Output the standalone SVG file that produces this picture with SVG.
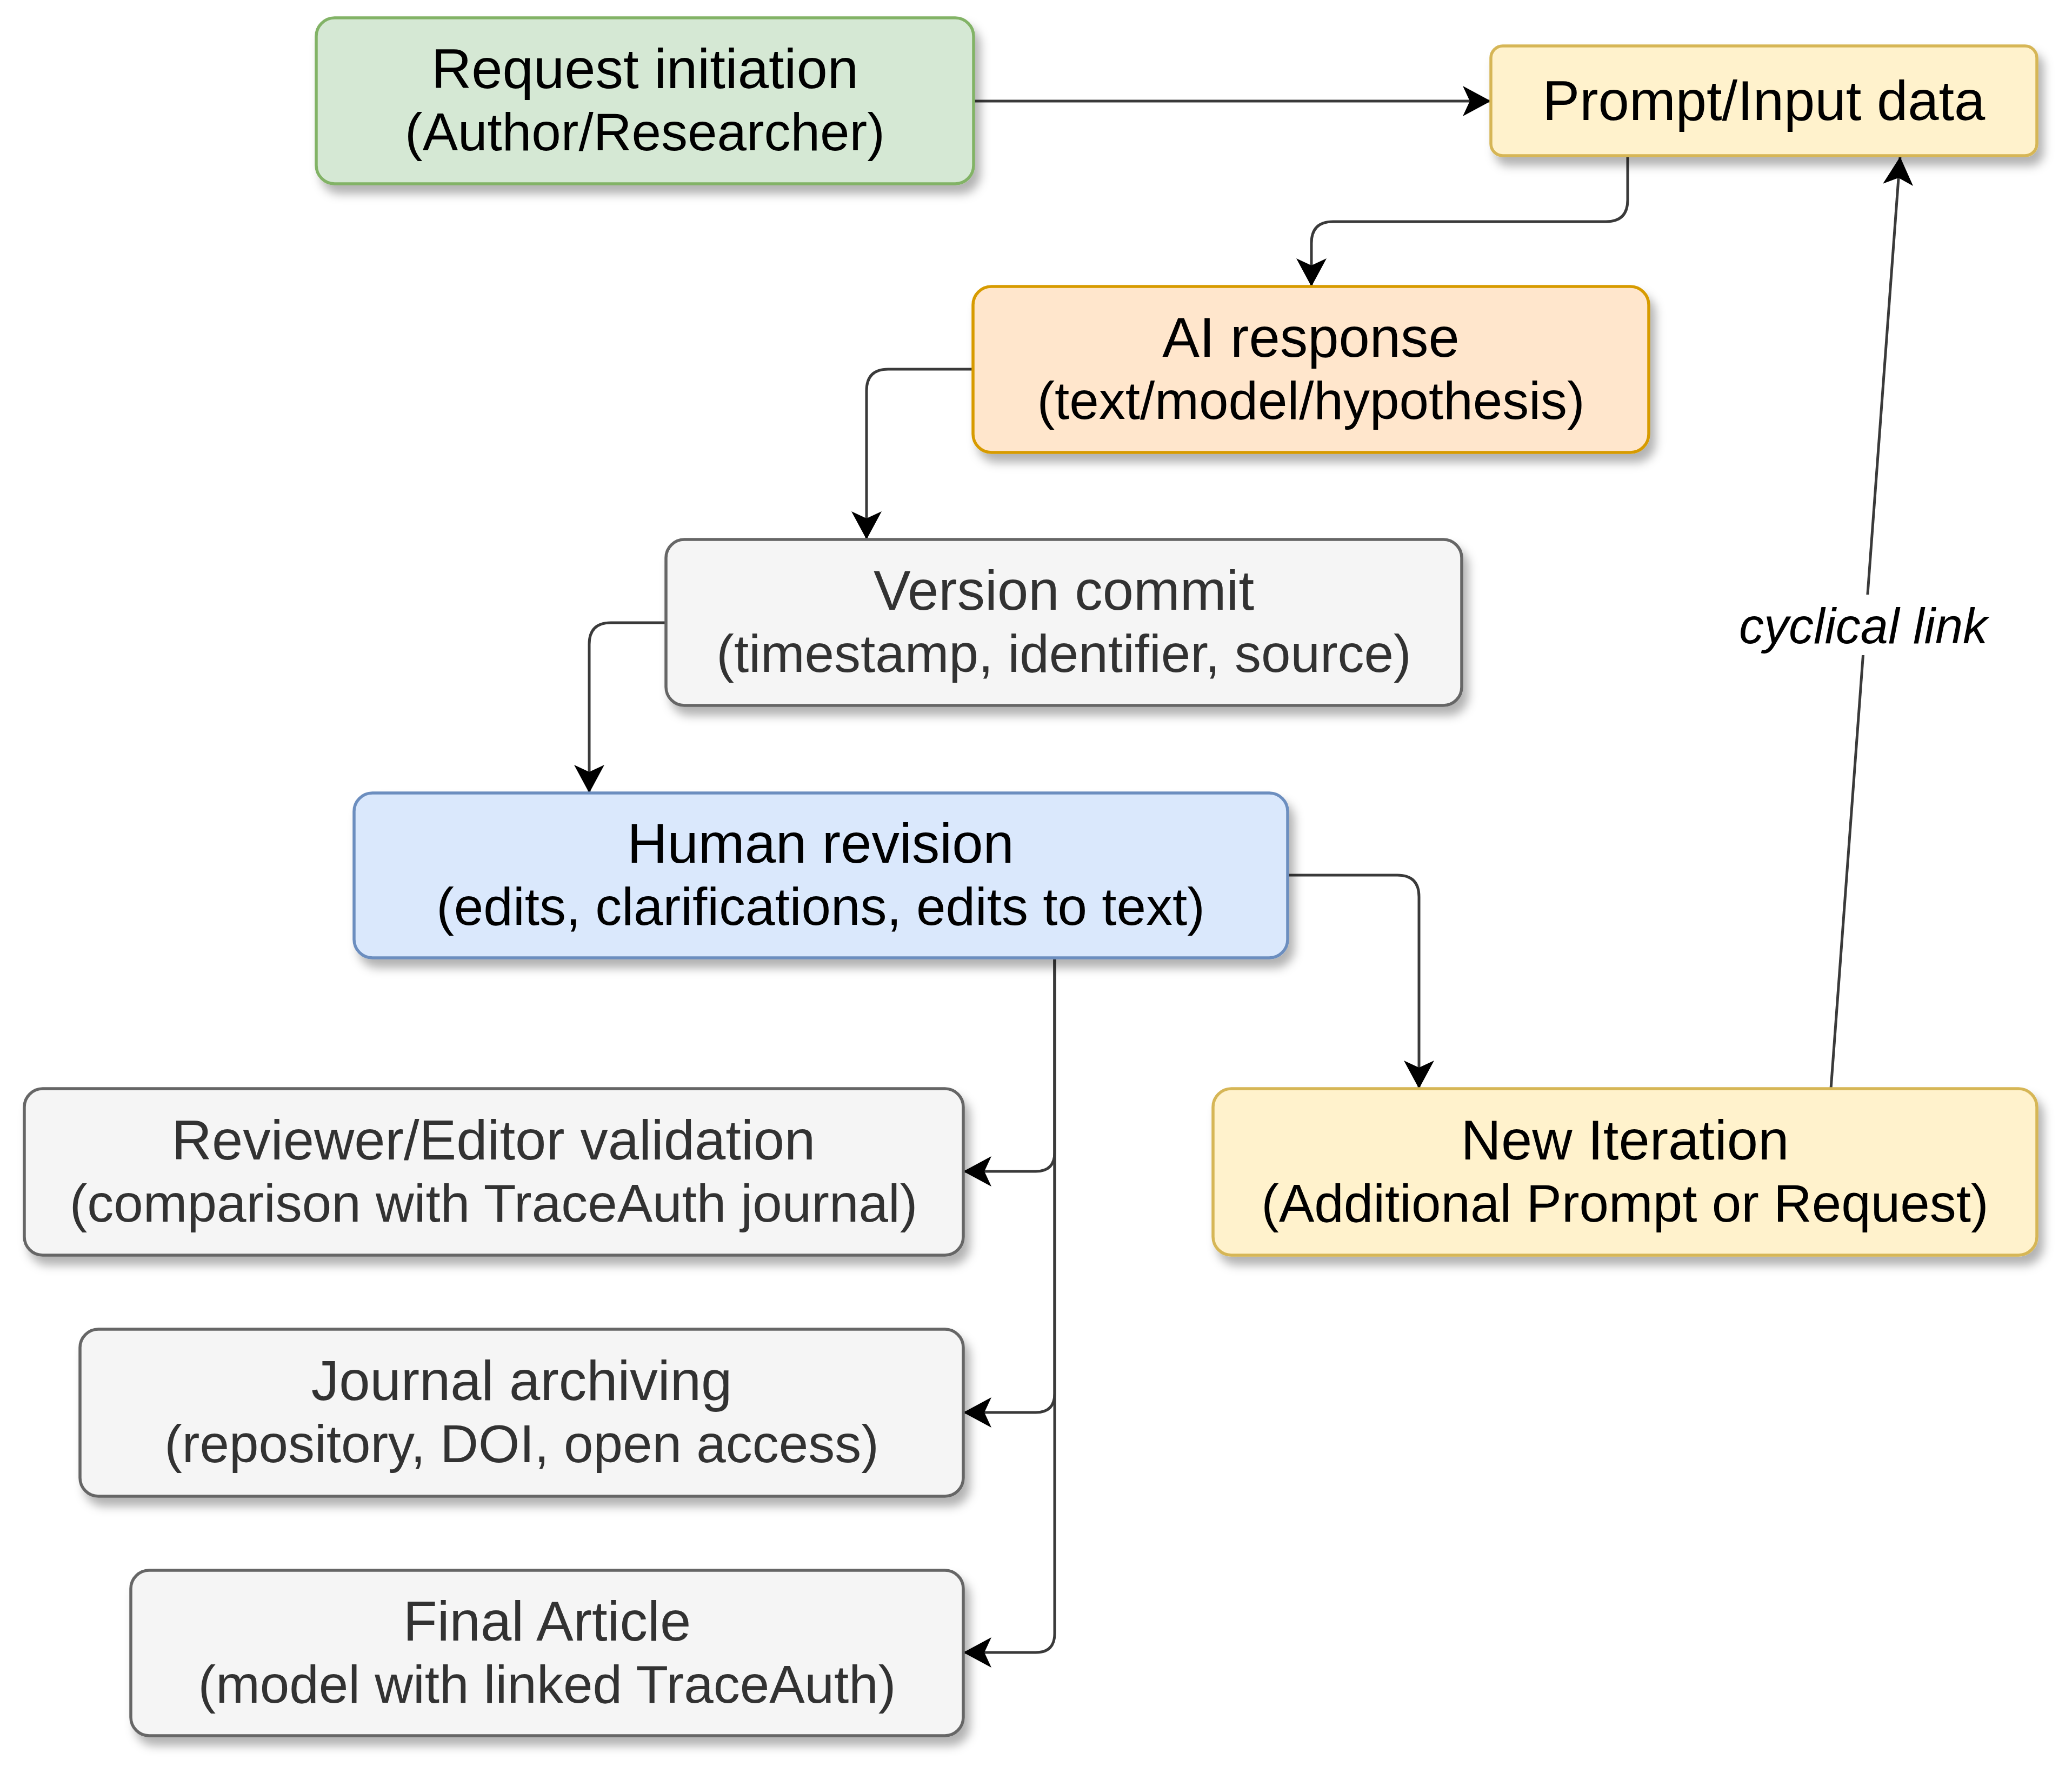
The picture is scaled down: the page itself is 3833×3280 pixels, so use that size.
<svg xmlns="http://www.w3.org/2000/svg" width="3833" height="3280" viewBox="0 0 3833 3280">
<style>
.box{stroke-width:5.5}
.t{font-family:"Liberation Sans",Arial,Helvetica,sans-serif;font-size:103px;text-anchor:middle;fill:#000}
.s{font-size:98px}
.g{fill:#333333}
.green{fill:#d5e8d4;stroke:#82b366}
.yellow{fill:#fff2cc;stroke:#d6b656}
.orange{fill:#ffe6cc;stroke:#d79b00}
.gray{fill:#f5f5f5;stroke:#666666}
.blue{fill:#dae8fc;stroke:#6c8ebf}
.edge{fill:none;stroke:#3a3a3a;stroke-width:5;marker-end:url(#arr)}
.lbl{font-family:"Liberation Sans",Arial,Helvetica,sans-serif;font-size:92px;font-style:italic;text-anchor:middle;fill:#000}
</style>
<defs>
<filter id="sh" x="-5%" y="-10%" width="115%" height="130%">
<feDropShadow dx="10" dy="16" stdDeviation="9" flood-color="#000" flood-opacity="0.3"/>
</filter>
<marker id="arr" viewBox="0 0 52 56" refX="52" refY="28" markerWidth="52" markerHeight="56" markerUnits="userSpaceOnUse" orient="auto">
<path d="M52,28 L0,0 L13,28 L0,56 Z" fill="#000"/>
</marker>
</defs>
<rect width="3833" height="3280" fill="#fff"/>

<g id="connectors">
<path class="edge" d="M1801,187 L2758,187"/>
<path class="edge" d="M3011,288 L3011,370 Q3011,410 2971,410 L2466,410 Q2426,410 2426,450 L2426,530"/>
<path class="edge" d="M1800,683 L1643,683 Q1603,683 1603,723 L1603,998"/>
<path class="edge" d="M1232,1152 L1130,1152 Q1090,1152 1090,1192 L1090,1467"/>
<path class="edge" d="M2382,1619 L2585,1619 Q2625,1619 2625,1659 L2625,2014"/>
<path class="edge" d="M1951,1772 L1951,2132 Q1951,2167 1916,2167 L1782,2167"/>
<path class="edge" d="M1951,1772 L1951,2578 Q1951,2613 1916,2613 L1782,2613"/>
<path class="edge" d="M1951,1772 L1951,3022 Q1951,3057 1916,3057 L1782,3057"/>
<path class="edge" d="M3387,2014 L3515,290"/>
<rect x="3210" y="1100" width="474" height="112" fill="#fff"/>
<text class="lbl" x="3447" y="1190">cyclical link</text>
</g>

<g id="request" filter="url(#sh)">
<rect class="box green" x="585" y="33" width="1216" height="307" rx="34"/>
<text class="t" x="1193" y="163">Request initiation</text>
<text class="t s" x="1193" y="278">(Author/Researcher)</text>
</g>
<g id="prompt" filter="url(#sh)">
<rect class="box yellow" x="2758" y="85" width="1010" height="203" rx="22"/>
<text class="t" x="3263" y="222">Prompt/Input data</text>
</g>
<g id="ai" filter="url(#sh)">
<rect class="box orange" x="1800" y="530" width="1250" height="307" rx="34"/>
<text class="t" x="2425" y="660">AI response</text>
<text class="t s" x="2425" y="775">(text/model/hypothesis)</text>
</g>
<g id="version" filter="url(#sh)">
<rect class="box gray" x="1232" y="998" width="1472" height="307" rx="34"/>
<text class="t g" x="1968" y="1128">Version commit</text>
<text class="t s g" x="1968" y="1243">(timestamp, identifier, source)</text>
</g>
<g id="human" filter="url(#sh)">
<rect class="box blue" x="655" y="1467" width="1727" height="305" rx="34"/>
<text class="t" x="1518" y="1596">Human revision</text>
<text class="t s" x="1518" y="1711">(edits, clarifications, edits to text)</text>
</g>
<g id="newiter" filter="url(#sh)">
<rect class="box yellow" x="2244" y="2014" width="1524" height="308" rx="34"/>
<text class="t" x="3006" y="2145">New Iteration</text>
<text class="t s" x="3006" y="2260">(Additional Prompt or Request)</text>
</g>
<g id="reviewer" filter="url(#sh)">
<rect class="box gray" x="45" y="2014" width="1737" height="308" rx="34"/>
<text class="t g" x="913" y="2145">Reviewer/Editor validation</text>
<text class="t s g" x="913" y="2260">(comparison with TraceAuth journal)</text>
</g>
<g id="journal" filter="url(#sh)">
<rect class="box gray" x="148" y="2459" width="1634" height="309" rx="34"/>
<text class="t g" x="965" y="2590">Journal archiving</text>
<text class="t s g" x="965" y="2705">(repository, DOI, open access)</text>
</g>
<g id="final" filter="url(#sh)">
<rect class="box gray" x="242" y="2905" width="1540" height="306" rx="34"/>
<text class="t g" x="1012" y="3035">Final Article</text>
<text class="t s g" x="1012" y="3150">(model with linked TraceAuth)</text>
</g>
</svg>
